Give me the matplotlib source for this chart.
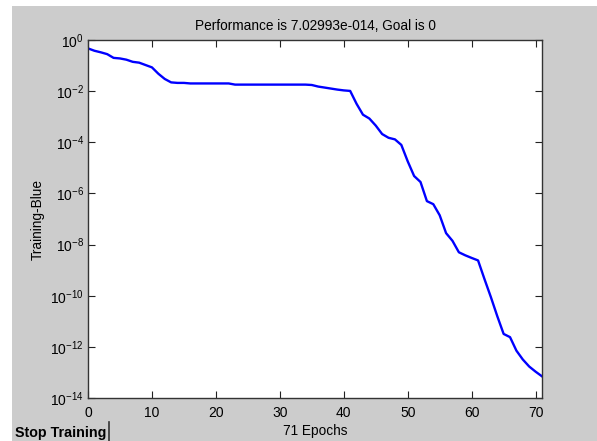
import matplotlib
matplotlib.use('Agg')
import matplotlib.pyplot as plt
from matplotlib.patches import Rectangle
from matplotlib.lines import Line2D

# performance per epoch
epochs = list(range(72))
perf = [
	0.47, 0.38, 0.33, 0.28, 0.20, 0.19, 0.17, 0.14, 0.13, 0.105,
	0.085, 0.048, 0.030, 0.022, 0.021, 0.021, 0.020, 0.020, 0.020, 0.020,
	0.020, 0.020, 0.020, 0.018, 0.018, 0.018, 0.018, 0.018, 0.018, 0.018,
	0.018, 0.018, 0.018, 0.018, 0.018, 0.0174, 0.0151, 0.0138, 0.0126, 0.0115,
	0.0107, 0.0102, 3.2e-3, 1.2e-3, 8.5e-4, 4.5e-4, 2.1e-4, 1.5e-4, 1.3e-4, 7.9e-5,
	1.8e-5, 4.8e-6, 2.8e-6, 5.0e-7, 3.8e-7, 1.4e-7, 2.8e-8, 1.4e-8, 5.0e-9, 3.8e-9,
	3.0e-9, 2.4e-9, 4.5e-10, 8.9e-11, 1.6e-11, 3.2e-12, 2.4e-12, 7.1e-13, 3.2e-13, 1.7e-13,
	1.07e-13, 7.03e-14,
]
xticks = [0, 10, 20, 30, 40, 50, 60, 70]
yticks = [1e0, 1e-2, 1e-4, 1e-6, 1e-8, 1e-10, 1e-12, 1e-14]
ytick_labels = ['$10^{0}$', '$10^{-2}$', '$10^{-4}$', '$10^{-6}$',
	'$10^{-8}$', '$10^{-10}$', '$10^{-12}$', '$10^{-14}$']

plt.rcParams['font.family'] = ['Liberation Sans', 'DejaVu Sans']
plt.rcParams['mathtext.default'] = 'regular'

W, H = 597, 441
fig = plt.figure(figsize=(W / 100, H / 100), dpi=100, facecolor='white')
# gray window background, white margin strip at top and left
fig.patches.append(Rectangle((12 / W, 0), 1, (H - 6) / H, transform=fig.transFigure,
	facecolor='#cccccc', edgecolor='none', zorder=-10))

ax = fig.add_axes([88 / W, (H - 398) / H, 454 / W, 358 / H])
ax.set_facecolor('white')
ax.plot(epochs, perf, color='#0000ff', linewidth=1.7)
ax.set_yscale('log')
ax.set_xlim(0, 71)
ax.set_ylim(1e-14, 1)
ax.set_xticks(xticks)
ax.set_yticks(yticks)
ax.set_yticklabels(ytick_labels)
ax.minorticks_off()
ax.tick_params(direction='in', length=5, width=0.8, top=True, right=True,
	labelsize=10, color='#222222')
ax.tick_params(axis='x', pad=6)
ax.tick_params(axis='y', pad=3)
for s in ax.spines.values():
	s.set_color('#333333')
	s.set_linewidth(1.0)

ax.set_title('Performance is 7.02993e-014, Goal is 0', fontsize=9.8, pad=7)
ax.set_xlabel('71 Epochs', fontsize=9.8, labelpad=3)
ax.set_ylabel('Training-Blue', fontsize=9.8, labelpad=4)

# "Stop Training" button
fig.text(15 / W, 1 - 437 / H, 'Stop Training', fontsize=10.3, fontweight='bold',
	ha='left', va='baseline')
fig.lines.append(Line2D([109 / W, 109 / W], [0, 1 - 422 / H], transform=fig.transFigure,
	color='#333333', linewidth=1.2))

fig.savefig('out.png', dpi=100, facecolor=fig.get_facecolor())
